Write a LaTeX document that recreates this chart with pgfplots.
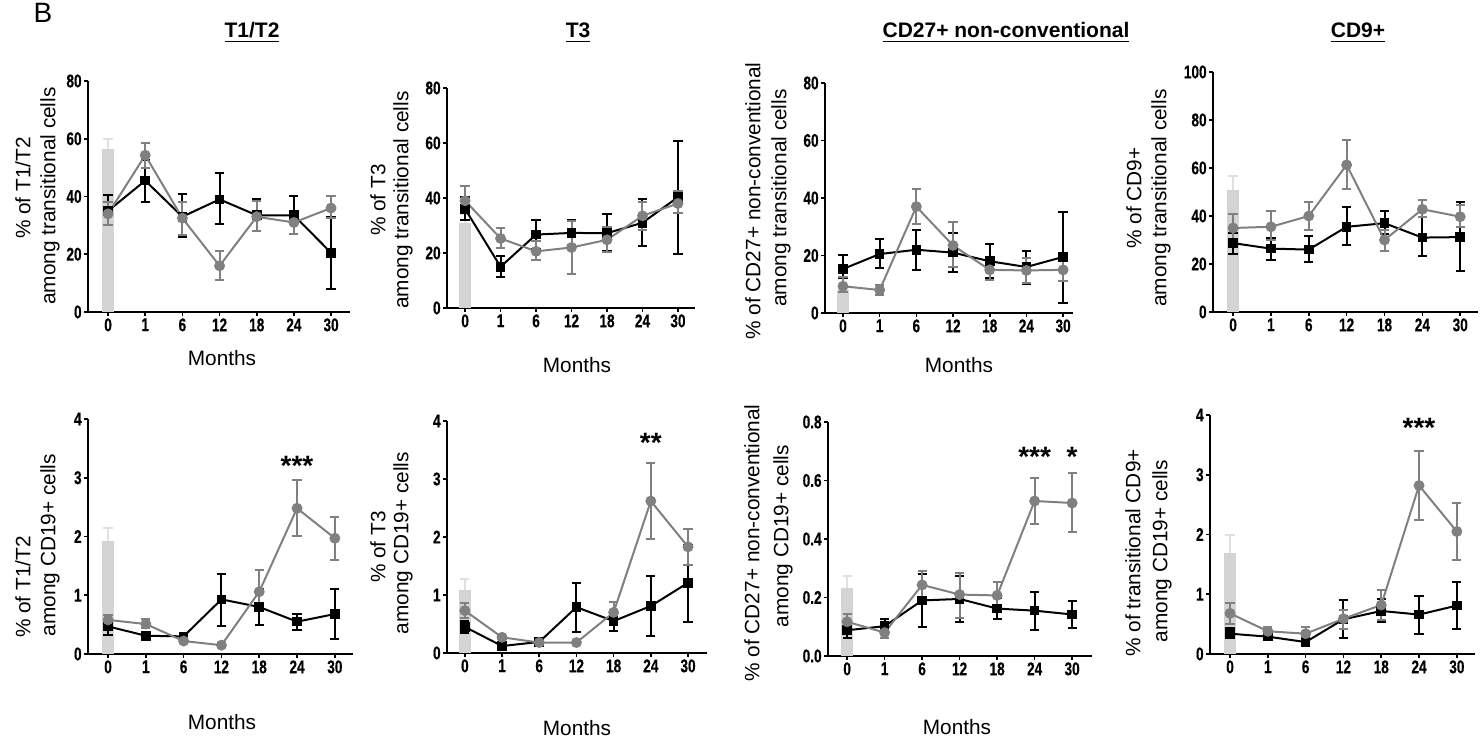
\documentclass[border=0pt]{standalone}
\usepackage{fontspec}
\setmainfont{Liberation Sans}
\newfontfamily\narrowfont[UprightFont={* Bold}, FakeStretch=0.74, FakeBold=0.4]{Liberation Sans}
\usepackage{pgfplots}
\pgfplotsset{compat=1.18}
\definecolor{gser}{RGB}{128,128,128}
\definecolor{barg}{RGB}{212,212,212}
\definecolor{barerr}{RGB}{224,224,224}
\newcommand\ticklbl{\fontsize{9.2pt}{10pt}\narrowfont}
\newcommand\lbl{\fontsize{10.4pt}{12pt}\selectfont}
\newcommand\ttl{\fontsize{10.5pt}{12pt}\selectfont\bfseries}
\newcommand\stars{\fontsize{14pt}{14pt}\selectfont\bfseries}
\pgfplotsset{
 panel/.style={scale only axis, anchor=south west, axis lines*=left,
   axis line style={line width=1pt,-}, ymin=0,
   xtick={0,...,6}, xticklabels={0,1,6,12,18,24,30},
   tick align=outside, major tick length=2pt, tick style={line width=0.8pt,black},
   ticklabel style={font=\ticklbl, inner sep=1pt},
   /pgf/number format/assume math mode=true, clip=false},
 blk/.style={black, line width=1pt, mark=square*, mark size=1.9pt, mark options={solid,fill=black},
   error bars/y dir=both, error bars/y explicit,
   error bars/error bar style={line width=1pt,black},
   error bars/error mark options={rotate=90, line width=1pt, mark size=2.3pt, black}},
 gry/.style={gser, line width=1pt, mark=*, mark size=2.2pt, mark options={solid,fill=gser},
   error bars/y dir=both, error bars/y explicit,
   error bars/error bar style={line width=1pt,gser},
   error bars/error mark options={rotate=90, line width=1pt, mark size=2.3pt, gser}},
 bar/.style={ybar, bar width=6pt, fill=barg, draw=none,
   error bars/y dir=plus, error bars/y explicit,
   error bars/error bar style={line width=1pt,draw=barerr},
   error bars/error mark options={rotate=90, line width=1pt, mark size=2.3pt, draw=barerr}},
}
\begin{document}
\begin{tikzpicture}
\useasboundingbox (0,0) rectangle (740pt,371.5pt);

% ---------- P1: T1/T2 among transitional
\begin{axis}[panel, at={(44pt,215.5pt)}, width=131pt, height=115.5pt,
  xmin=-0.54, xmax=6.51, ymax=80, ytick={0,20,40,60,80}]
\addplot[bar] coordinates {(0,56.5) +- (0,3.3)};
\addplot[blk] table[x=x,y=y,y error plus=p,y error minus=m,row sep=\\]{
x y p m\\ 0 35 5.5 5\\ 1 45.5 7 7.3\\ 2 33 7.8 7.2\\ 3 39 9 8.5\\ 4 33.5 5.5 5.5\\ 5 33.5 6.5 6.5\\ 6 20.5 12.5 12.5\\};
\addplot[gry] table[x=x,y=y,y error plus=p,y error minus=m,row sep=\\]{
x y p m\\ 0 34 4 4\\ 1 54.3 4.2 4.3\\ 2 32.5 5.5 6\\ 3 16 5 5\\ 4 33 5.5 5\\ 5 31 4 4\\ 6 36 4 3.5\\};
\end{axis}

% ---------- P2: T3 among transitional
\begin{axis}[panel, at={(223.5pt,217.5pt)}, width=124pt, height=110pt,
  xmin=-0.51, xmax=6.48, ymax=80, ytick={0,20,40,60,80}]
\addplot[bar] coordinates {(0,31) +- (0,3)};
\addplot[blk] table[x=x,y=y,y error plus=p,y error minus=m,row sep=\\]{
x y p m\\ 0 36 4.2 4\\ 1 15 3.8 3.7\\ 2 26.7 5.4 5.2\\ 3 27.3 4.8 4.3\\ 4 27.2 6.8 6.6\\ 5 31 8.6 8.3\\ 6 40.3 20.5 20.5\\};
\addplot[gry] table[x=x,y=y,y error plus=p,y error minus=m,row sep=\\]{
x y p m\\ 0 39 5.2 4.5\\ 1 25.3 3.8 3.5\\ 2 20.6 3.6 3.3\\ 3 22 9.5 9.6\\ 4 24.8 4.7 4.6\\ 5 33.5 5 5\\ 6 38 4.4 3.5\\};
\end{axis}

% ---------- P3: CD27+ among transitional
\begin{axis}[panel, at={(412.5pt,215pt)}, width=124pt, height=115pt,
  xmin=-0.49, xmax=6.27, ymax=80, ytick={0,20,40,60,80}]
\addplot[bar] coordinates {(0,8) +- (0,1.5)};
\addplot[blk] table[x=x,y=y,y error plus=p,y error minus=m,row sep=\\]{
x y p m\\ 0 15.3 4.8 3.3\\ 1 20.5 5.1 5\\ 2 22 7 6.9\\ 3 21 6.9 6.7\\ 4 18 6 5.7\\ 5 16 5.6 5.8\\ 6 19.5 15.7 16\\};
\addplot[gry] table[x=x,y=y,y error plus=p,y error minus=m,row sep=\\]{
x y p m\\ 0 9.3 3.3 2\\ 1 8 1.7 1.8\\ 2 37 6.1 6\\ 3 23.5 8.2 7.5\\ 4 15 3.5 3.4\\ 5 14.8 4.5 4.3\\ 6 15 4 3.8\\};
\end{axis}

% ---------- P4: CD9+ among transitional
\begin{axis}[panel, at={(606.5pt,215.5pt)}, width=132.5pt, height=120pt,
  xmin=-0.53, xmax=6.47, ymax=100, ytick={0,20,40,60,80,100}]
\addplot[bar] coordinates {(0,51) +- (0,5.5)};
\addplot[blk] table[x=x,y=y,y error plus=p,y error minus=m,row sep=\\]{
x y p m\\ 0 28.7 4.2 4.4\\ 1 26.4 4.6 4.6\\ 2 26 5.5 5.2\\ 3 35.5 8.2 7.7\\ 4 37 4.9 4.4\\ 5 31 8.5 7.8\\ 6 31.2 14.8 14.1\\};
\addplot[gry] table[x=x,y=y,y error plus=p,y error minus=m,row sep=\\]{
x y p m\\ 0 35 6 5.1\\ 1 35.5 6.5 5.5\\ 2 40 5.8 5.7\\ 3 61.3 10.2 9.9\\ 4 30 4 4.7\\ 5 42.8 3.7 3.2\\ 6 39.7 4.7 4.3\\};
\end{axis}

% ---------- P5: T1/T2 among CD19+
\begin{axis}[panel, at={(44pt,44.5pt)}, width=132.5pt, height=117.5pt,
  xmin=-0.53, xmax=6.48, ymax=4, ytick={0,1,2,3,4}]
\addplot[bar] coordinates {(0,1.92) +- (0,0.23)};
\addplot[blk] table[x=x,y=y,y error plus=p,y error minus=m,row sep=\\]{
x y p m\\ 0 0.47 0.13 0.14\\ 1 0.31 0.03 0.03\\ 2 0.3 0.04 0.03\\ 3 0.93 0.44 0.45\\ 4 0.8 0.3 0.31\\ 5 0.55 0.13 0.15\\ 6 0.68 0.42 0.43\\};
\addplot[gry] table[x=x,y=y,y error plus=p,y error minus=m,row sep=\\]{
x y p m\\ 0 0.58 0.09 0.08\\ 1 0.51 0.09 0.06\\ 2 0.22 0.03 0.03\\ 3 0.15 0.02 0.02\\ 4 1.06 0.37 0.31\\ 5 2.48 0.48 0.48\\ 6 1.97 0.36 0.37\\};
\node[font=\stars] at (axis cs:5,3.2) {***};
\end{axis}

% ---------- P6: T3 among CD19+
\begin{axis}[panel, at={(223.5pt,45pt)}, width=130pt, height=116pt,
  xmin=-0.48, xmax=6.51, ymax=4, ytick={0,1,2,3,4}]
\addplot[bar] coordinates {(0,1.08) +- (0,0.2)};
\addplot[blk] table[x=x,y=y,y error plus=p,y error minus=m,row sep=\\]{
x y p m\\ 0 0.45 0.1 0.1\\ 1 0.12 0.03 0.03\\ 2 0.19 0.03 0.03\\ 3 0.79 0.42 0.43\\ 4 0.55 0.17 0.17\\ 5 0.81 0.51 0.52\\ 6 1.21 0.66 0.68\\};
\addplot[gry] table[x=x,y=y,y error plus=p,y error minus=m,row sep=\\]{
x y p m\\ 0 0.73 0.14 0.13\\ 1 0.27 0.03 0.03\\ 2 0.18 0.02 0.02\\ 3 0.18 0.02 0.02\\ 4 0.7 0.18 0.15\\ 5 2.62 0.65 0.65\\ 6 1.83 0.31 0.31\\};
\node[font=\stars] at (axis cs:5,3.62) {**};
\end{axis}

% ---------- P7: CD27+ among CD19+
\begin{axis}[panel, at={(414pt,43.5pt)}, width=132pt, height=117pt,
  xmin=-0.51, xmax=6.53, ymax=0.8, ytick={0,0.2,0.4,0.6,0.8},
  yticklabel style={/pgf/number format/.cd, fixed, fixed zerofill, precision=1}]
\addplot[bar] coordinates {(0,0.231) +- (0,0.043)};
\addplot[blk] table[x=x,y=y,y error plus=p,y error minus=m,row sep=\\]{
x y p m\\ 0 0.088 0.032 0.028\\ 1 0.102 0.026 0.022\\ 2 0.19 0.09 0.09\\ 3 0.195 0.08 0.08\\ 4 0.162 0.035 0.035\\ 5 0.155 0.063 0.065\\ 6 0.142 0.045 0.046\\};
\addplot[gry] table[x=x,y=y,y error plus=p,y error minus=m,row sep=\\]{
x y p m\\ 0 0.117 0.025 0.027\\ 1 0.08 0.02 0.02\\ 2 0.243 0.047 0.043\\ 3 0.21 0.075 0.08\\ 4 0.207 0.045 0.047\\ 5 0.53 0.08 0.08\\ 6 0.523 0.102 0.1\\};
\node[font=\stars] at (axis cs:5,0.68) {***};
\node[font=\stars] at (axis cs:6,0.68) {*};
\end{axis}

% ---------- P8: CD9+ among CD19+
\begin{axis}[panel, at={(605pt,44.5pt)}, width=132.5pt, height=119.5pt,
  xmin=-0.53, xmax=6.48, ymax=4, ytick={0,1,2,3,4}]
\addplot[bar] coordinates {(0,1.69) +- (0,0.3)};
\addplot[blk] table[x=x,y=y,y error plus=p,y error minus=m,row sep=\\]{
x y p m\\ 0 0.34 0.09 0.08\\ 1 0.29 0.03 0.03\\ 2 0.2 0.03 0.03\\ 3 0.58 0.32 0.32\\ 4 0.72 0.2 0.19\\ 5 0.66 0.31 0.33\\ 6 0.81 0.39 0.4\\};
\addplot[gry] table[x=x,y=y,y error plus=p,y error minus=m,row sep=\\]{
x y p m\\ 0 0.68 0.18 0.18\\ 1 0.38 0.07 0.08\\ 2 0.34 0.11 0.09\\ 3 0.59 0.14 0.17\\ 4 0.82 0.25 0.25\\ 5 2.82 0.58 0.58\\ 6 2.05 0.48 0.47\\};
\node[font=\stars] at (axis cs:5,3.78) {***};
\end{axis}

% ---------- texts
\node[font=\fontsize{14pt}{16pt}\selectfont, anchor=base] at (21.5pt,360pt) {B};
\node[font=\ttl, anchor=base] at (126pt,352.5pt) {\underline{T1/T2}};
\node[font=\ttl, anchor=base] at (289pt,352.5pt) {\underline{T3}};
\node[font=\ttl, anchor=base] at (503pt,352.5pt) {\underline{CD27+ non-conventional}};
\node[font=\ttl, anchor=base] at (679pt,352.5pt) {\underline{CD9+}};

\node[font=\lbl, rotate=90] at (11.5pt,277.5pt) {\% of T1/T2};
\node[font=\lbl, rotate=90] at (25pt,273.5pt) {among transitional cells};
\node[font=\lbl, rotate=90] at (189pt,271.5pt) {\% of T3};
\node[font=\lbl, rotate=90] at (201.5pt,271.5pt) {among transitional cells};
\node[font=\lbl, rotate=90] at (376.5pt,271pt) {\% of CD27+ non-conventional};
\node[font=\lbl, rotate=90] at (390.5pt,272.5pt) {among transitional cells};
\node[font=\lbl, rotate=90] at (567pt,272.5pt) {\% of CD9+};
\node[font=\lbl, rotate=90] at (580.5pt,272.5pt) {among transitional cells};

\node[font=\lbl, rotate=90] at (11.5pt,78pt) {\% of T1/T2};
\node[font=\lbl, rotate=90] at (25pt,99pt) {among CD19+ cells};
\node[font=\lbl, rotate=90] at (189pt,98pt) {\% of T3};
\node[font=\lbl, rotate=90] at (201.5pt,100pt) {among CD19+ cells};
\node[font=\lbl, rotate=90] at (376pt,100pt) {\% of CD27+ non-conventional};
\node[font=\lbl, rotate=90] at (391.5pt,103.5pt) {among CD19+ cells};
\node[font=\lbl, rotate=90] at (566.5pt,95pt) {\% of transitional CD9+};
\node[font=\lbl, rotate=90] at (581pt,96pt) {among CD19+ cells};

\node[font=\lbl] at (111pt,192.5pt) {Months};
\node[font=\lbl] at (288.5pt,189pt) {Months};
\node[font=\lbl] at (479.5pt,189pt) {Months};
\node[font=\lbl] at (111pt,10.5pt) {Months};
\node[font=\lbl] at (288.5pt,7.5pt) {Months};
\node[font=\lbl] at (478.5pt,8pt) {Months};
\end{tikzpicture}
\end{document}
